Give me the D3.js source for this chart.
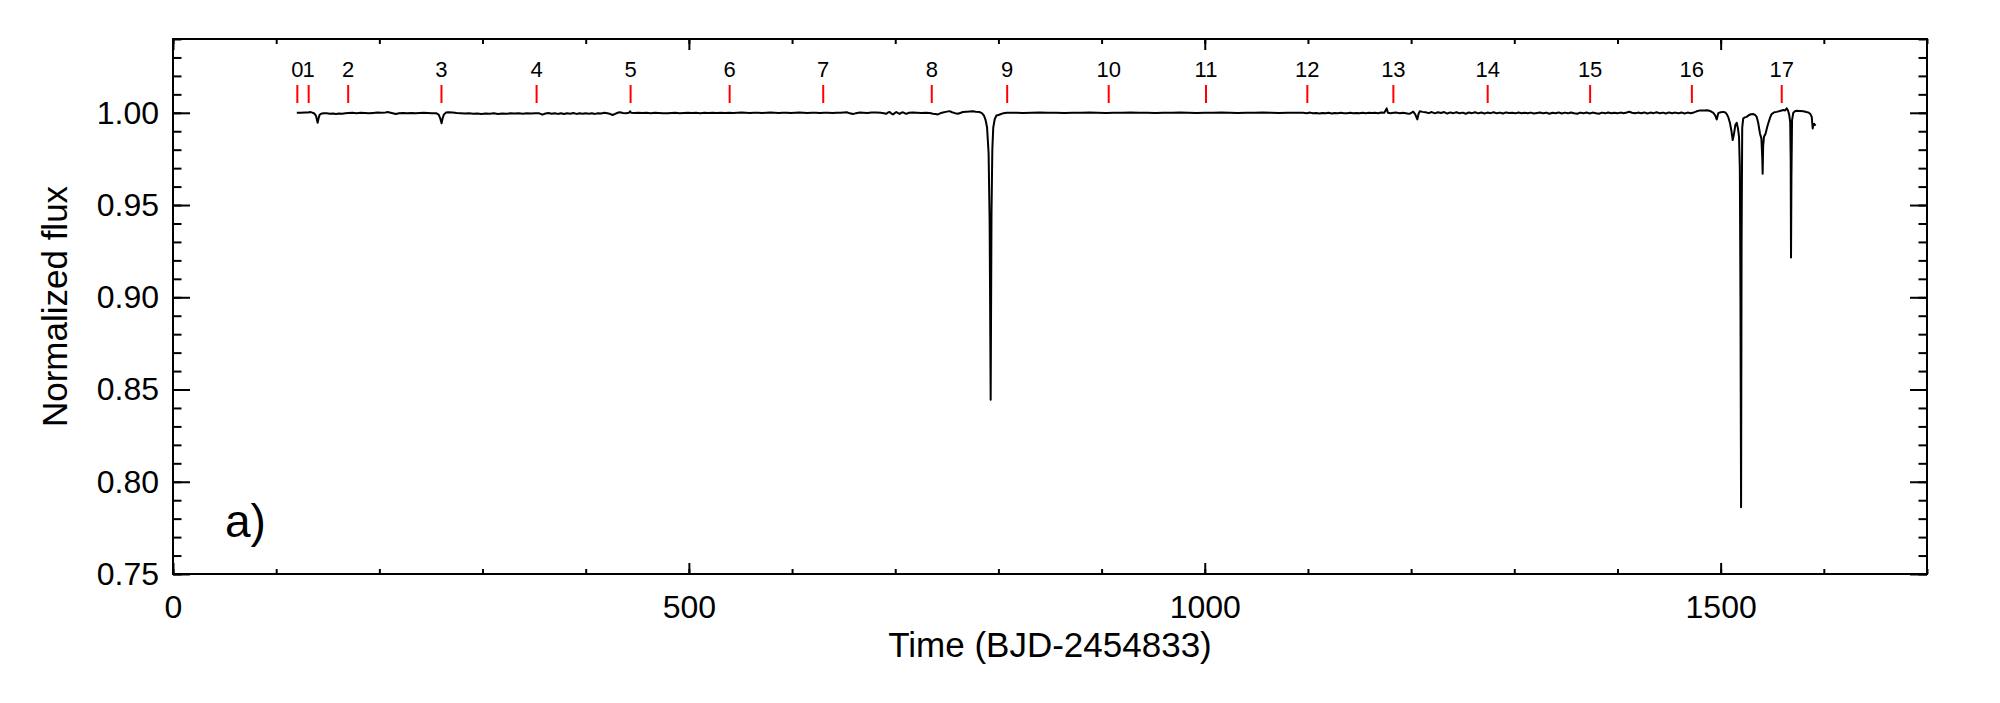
<!DOCTYPE html>
<html>
<head>
<meta charset="utf-8">
<script src="https://cdn.jsdelivr.net/npm/d3@7/dist/d3.min.js"></script>
<style>
  body { margin: 0; background: #fff; }
  text { font-family: "Liberation Sans", Arial, Helvetica, sans-serif; fill: #000; }
</style>
</head>
<body>
<svg id="chart" width="2000" height="703"></svg>
<script>
// light curve (time in BJD-2454833, normalized flux)
var time = [
  120, 124, 128, 131, 133, 135, 137, 138.5, 139.5, 140.2, 141, 142, 143.5, 146, 149, 152, 155, 158, 161, 164, 167,
  170, 174, 178, 182, 186, 190, 194, 198, 202, 206, 208, 211, 214, 216, 219, 223, 227, 231, 235, 239, 243, 247, 251, 255,
  257.5, 259, 260.3, 261.2, 262.5, 264.5, 267, 271, 275, 279, 283, 287, 291, 295, 299, 303, 307, 311, 315, 319, 323, 327,
  331, 335, 339, 343, 347, 351, 355, 358, 361, 364, 367, 370, 373, 376, 379, 382, 385, 388, 391, 394, 397, 400, 403, 406,
  409, 412, 415, 418, 421, 424, 426, 428, 431, 433, 436, 439, 442, 443, 444, 447, 451, 455, 459, 463, 467, 471, 475, 479,
  483, 487, 491, 495, 499, 503, 507, 511, 515, 519, 523, 527, 531, 535, 539, 543, 547, 551, 555, 559, 563, 567, 571, 575,
  579, 583, 587, 591, 595, 599, 603, 607, 611, 615, 619, 623, 627, 631, 635, 639, 643, 647, 650, 653, 656, 659, 662, 665.5,
  669, 673, 677, 681.7, 686, 689, 691.4, 693, 694.6, 696, 697.8, 699.5, 701, 702.5, 704.3, 706, 707.5, 709, 711, 713, 717,
  721, 725, 730, 733.5, 736.6, 739, 741.4, 744, 746.3, 749, 752.7, 755, 758, 760.8, 763, 765.6, 769, 772, 775.3, 778, 781.8,
  784, 786, 787.5, 789, 790.5, 791.5, 792.5, 793.3, 794.1, 795, 796.4, 798, 800, 802, 805, 808,
  816, 824, 832, 840, 848, 856, 864, 872, 880, 888, 896, 904, 912, 920, 928, 936, 944, 952, 960, 968, 976, 984, 992, 1000,
  1008, 1016, 1024, 1032, 1040, 1048, 1056, 1064, 1072, 1080, 1088, 1095,
  1099, 1102, 1105, 1108, 1111, 1114, 1117, 1120, 1123, 1126, 1129, 1132, 1135, 1138, 1141, 1144, 1147, 1150, 1153, 1156,
  1159, 1162, 1165, 1168, 1171, 1174, 1176.3, 1177.5, 1180, 1183, 1186, 1189, 1192, 1195, 1198, 1200, 1202, 1204, 1206,
  1207.2, 1208.5, 1211, 1214, 1217, 1220, 1223, 1226, 1229, 1232, 1235, 1238, 1241, 1244, 1247, 1250, 1253, 1256, 1259,
  1262, 1265, 1268, 1271, 1274, 1277, 1280, 1283, 1286, 1289, 1292, 1295, 1298, 1301, 1304, 1307, 1310, 1313, 1316, 1319,
  1322, 1325, 1328, 1331, 1334, 1337, 1340, 1343, 1346, 1349, 1352, 1355, 1358, 1361, 1364, 1367, 1370, 1373, 1376, 1379,
  1382, 1385, 1388, 1391, 1394, 1397, 1400, 1403, 1406, 1409, 1411.4, 1414, 1417, 1420, 1423, 1426, 1429, 1432, 1435,
  1438, 1441, 1444, 1447, 1450, 1453, 1456, 1459, 1462, 1465, 1468, 1471, 1474,
  1476.8, 1480, 1484, 1487, 1489.7, 1492.9, 1494.8, 1496.2, 1497.7, 1500, 1502.6, 1504.5, 1505.9, 1507.5, 1509.1, 1510.5,
  1511.7, 1512.9, 1514.3, 1515.6, 1516.8, 1517.8, 1518.6, 1519.2, 1519.8, 1520.3, 1520.9, 1521.9, 1523.5, 1525.2, 1527.5,
  1529.5, 1531.7, 1533.5, 1534.9, 1536.5, 1538.1, 1539.5, 1540.3, 1540.7, 1541.2, 1542, 1543.6, 1545, 1546.2, 1548, 1549.4,
  1552, 1554.3, 1557.5, 1560.7, 1562.5, 1564, 1565.3, 1566.5, 1567.4, 1567.9, 1568.2, 1568.6, 1569.2, 1570.4, 1572, 1573.7,
  1577, 1580.2, 1583, 1585, 1587, 1588.3, 1589.2, 1589.8, 1590.6, 1592
];
var flux = [
  1.0000, 1.0000, 1.0001, 1.0002, 1.0004, 1.0001, 0.9996, 0.9985, 0.9962, 0.9946, 0.9968, 0.9988, 0.9995, 0.9998, 0.9997,
  0.9995, 0.9996, 0.9994, 0.9996, 0.9995, 0.9997,
  0.9999, 1.0000, 0.9998, 1.0000, 0.9999, 0.9997, 0.9999, 1.0001, 1.0000, 1.0002, 1.0004, 1.0000, 0.9996, 0.9993, 0.9997,
  0.9999, 0.9998, 0.9999, 0.9997, 0.9999, 1.0000, 0.9999, 0.9998, 0.9998,
  0.9990, 0.9970, 0.9943, 0.9968, 0.9990, 1.0001, 1.0003, 1.0002, 0.9999, 0.9998, 0.9996, 0.9997, 0.9995, 0.9996, 0.9994,
  0.9996, 0.9995, 0.9997, 0.9994, 0.9996, 0.9995, 0.9997,
  0.9996, 0.9998, 0.9995, 0.9997, 0.9996, 0.9998, 0.9997, 0.9990, 0.9996, 0.9999, 0.9995, 0.9998, 0.9994, 0.9997, 0.9993,
  0.9997, 0.9995, 0.9999, 0.9994, 0.9997, 0.9995, 0.9998, 0.9995, 0.9997,
  0.9994, 0.9998, 0.9996, 1.0000, 0.9997, 0.9993, 0.9988, 0.9993, 1.0000, 1.0003, 0.9999, 0.9998, 1.0000, 1.0008, 1.0000,
  0.9999, 1.0000, 0.9999, 1.0000, 0.9998, 1.0000, 0.9999, 0.9998, 0.9997,
  0.9999, 1.0000, 0.9998, 0.9999, 1.0000, 0.9999, 1.0000, 0.9998, 1.0000, 0.9999, 1.0000, 0.9999, 1.0000, 0.9999, 1.0000,
  0.9999, 1.0000, 1.0001, 1.0000, 0.9999, 1.0000, 1.0000, 0.9999, 1.0000,
  1.0001, 1.0000, 0.9999, 1.0000, 1.0000, 0.9999, 1.0000, 1.0001, 1.0000, 0.9999, 1.0000, 1.0000, 0.9999, 1.0000, 1.0000,
  0.9999, 1.0000, 1.0000, 1.0002, 1.0003, 0.9997, 0.9993, 0.9998, 1.0001,
  1.0000, 0.9999, 1.0001, 1.0002, 1.0000, 0.9998, 0.9995, 1.0002, 1.0004, 0.9997, 0.9991, 0.9998, 1.0004, 0.9999, 0.9994,
  1.0001, 1.0003, 0.9998, 0.9995, 1.0000, 1.0001,
  1.0000, 0.9999, 1.0000, 0.9999, 0.9995, 0.9994, 0.9991, 0.9998, 1.0002, 1.0005, 1.0009, 1.0003, 0.9998, 0.9995, 0.9999,
  1.0004, 1.0006, 1.0007, 1.0008, 1.0006, 1.0004,
  0.9998, 0.9985, 0.9962, 0.9920, 0.9780, 0.9400, 0.8444, 0.9450, 0.9800, 0.9920, 0.9965, 0.9985, 0.9988, 0.9992, 0.9998,
  1.0000,
  1.0000, 0.9999, 1.0000, 1.0001, 1.0000, 1.0000, 0.9999, 1.0000, 1.0000, 1.0001, 1.0000, 0.9999, 1.0000, 1.0000, 1.0001,
  1.0000, 1.0000, 0.9999, 1.0000, 1.0000, 1.0001, 1.0000, 0.9999, 1.0000,
  1.0000, 1.0001, 1.0000, 0.9999, 1.0000, 1.0000, 1.0001, 1.0000, 0.9999, 1.0000, 1.0000, 1.0000,
  0.9998, 1.0001, 0.9997, 0.9999, 0.9996, 0.9999, 0.9997, 1.0000, 0.9996, 0.9999, 0.9997, 1.0000, 0.9998, 0.9997, 1.0000,
  0.9998, 0.9999, 0.9997, 1.0000, 0.9998,
  1.0000, 0.9999, 1.0000, 0.9998, 1.0001, 1.0000, 1.0024, 1.0000, 0.9998, 1.0000, 1.0001, 0.9997, 1.0000, 0.9998, 0.9994,
  0.9999, 1.0006, 0.9992, 0.9964,
  0.9995, 1.0008, 1.0005, 1.0003, 0.9998, 1.0004, 0.9997, 1.0003, 0.9999, 1.0004, 0.9996, 1.0002, 0.9998, 1.0003, 0.9997,
  1.0001, 0.9995, 1.0002, 0.9998,
  1.0003, 0.9997, 1.0002, 0.9996, 1.0001, 0.9998, 1.0003, 0.9997, 1.0001, 0.9996, 1.0002, 0.9999, 1.0000, 0.9997, 1.0002,
  0.9998, 1.0000, 0.9997, 1.0001, 0.9996,
  0.9999, 1.0002, 0.9997, 1.0001, 0.9995, 1.0000, 0.9998, 1.0002, 0.9996, 1.0001, 0.9997, 1.0002, 0.9998, 0.9995, 1.0001,
  0.9997, 1.0002, 0.9996, 1.0001, 0.9998,
  0.9995, 1.0001, 0.9997, 1.0002, 0.9998, 1.0000, 0.9997, 1.0001, 0.9998, 1.0002, 1.0006, 1.0000, 0.9997, 1.0001, 0.9998,
  1.0002, 0.9996, 1.0001, 0.9998,
  1.0003, 0.9997, 1.0001, 0.9996, 1.0002, 0.9998, 1.0001, 0.9997, 1.0002, 0.9996, 1.0001, 0.9998, 1.0002,
  1.0008, 1.0013, 1.0012, 1.0014, 1.0010, 1.0000, 0.9985, 0.9964, 0.9998, 1.0003, 1.0005, 1.0002, 0.9993, 0.9975, 0.9943,
  0.9900,
  0.9852, 0.9885, 0.9935, 0.9946, 0.9915, 0.9870, 0.9700, 0.9000, 0.7862, 0.9300, 0.9920, 0.9970, 0.9975, 0.9978, 0.9988,
  0.9992, 0.9993, 0.9988, 0.9978, 0.9943, 0.9888, 0.9860, 0.9760, 0.9670, 0.9820, 0.9870, 0.9888, 0.9920, 0.9943, 0.9975,
  0.9993,
  1.0003, 1.0005, 1.0010, 1.0015, 1.0013, 1.0024, 1.0012, 0.9988, 0.9950, 0.9740, 0.9215, 0.9650, 0.9960, 1.0000, 1.0008,
  1.0011,
  1.0010, 1.0008, 1.0004, 1.0002, 0.9993, 0.9978, 0.9915, 0.9935, 0.9940, 0.9930
];

// Kepler quarter starts (red markers along the top)
var quarterNames = ["0", "1", "2", "3", "4", "5", "6", "7", "8", "9", "10", "11", "12", "13", "14", "15", "16", "17"];
var quarterStart = [120.5, 131.5, 169.8, 260.2, 352.4, 443.5, 539.5, 630.2, 735.4, 808.5, 906.9, 1001.2, 1099.4,
                    1182.8, 1274.2, 1373.5, 1472.1, 1559.2];

var xTicks = [0, 500, 1000, 1500];
var yTicks = [0.75, 0.80, 0.85, 0.90, 0.95, 1.00];
var yTickLabels = ["0.75", "0.80", "0.85", "0.90", "0.95", "1.00"];

var W = 2000, H = 703;
var m = { top: 39, right: 73, bottom: 129, left: 173 };

var svg = d3.select('#chart');
svg.append('rect').attr('width', W).attr('height', H).attr('fill', '#fff');

var x = d3.scaleLinear().domain([0, 1700]).range([m.left, W - m.right]);
var y = d3.scaleLinear().domain([0.75, 1.04]).range([H - m.bottom, m.top]);

var pts = time.map(function(t, i) { return [t, flux[i]]; });

// curve
svg.append('path')
  .datum(pts)
  .attr('fill', 'none')
  .attr('stroke', '#000')
  .attr('stroke-width', 2)
  .attr('stroke-linejoin', 'round')
  .attr('d', d3.line().x(function(d) { return x(d[0]); }).y(function(d) { return y(d[1]); }));

// axes: major + minor, ticks pointing inwards
var xMinor = d3.range(0, 1701, 100), yMinor = d3.range(75, 105, 1).map(function(v) { return v / 100; });
function styleAxis(g, fs) {
  g.select('.domain').remove();
  g.selectAll('.tick line').attr('stroke', '#000').attr('stroke-width', 2);
  g.selectAll('.tick text').attr('font-size', fs).attr('font-family', '"Liberation Sans", Arial, sans-serif').attr('fill', '#000');
}
function addAxis(axis, tx, ty, fs) {
  var g = svg.append('g').attr('transform', 'translate(' + tx + ',' + ty + ')').call(axis);
  styleAxis(g, fs);
  return g;
}
var yb = H - m.bottom, xr = W - m.right;
addAxis(d3.axisBottom(x).tickValues(xMinor).tickSize(-5).tickFormat(''), 0, yb);
addAxis(d3.axisBottom(x).tickValues(xTicks).tickSize(-11).tickPadding(21).tickFormat(d3.format('d')), 0, yb, 32);
addAxis(d3.axisTop(x).tickValues(xMinor).tickSize(-5).tickFormat(''), 0, m.top);
addAxis(d3.axisTop(x).tickValues(xTicks).tickSize(-11).tickFormat(''), 0, m.top);
addAxis(d3.axisLeft(y).tickValues(yMinor).tickSize(-8.5).tickFormat(''), m.left, 0);
addAxis(d3.axisLeft(y).tickValues(yTicks).tickSize(-17).tickPadding(14)
  .tickFormat(function(d, i) { return yTickLabels[i]; }), m.left, 0, 32);
addAxis(d3.axisRight(y).tickValues(yMinor).tickSize(-8.5).tickFormat(''), xr, 0);
addAxis(d3.axisRight(y).tickValues(yTicks).tickSize(-17).tickFormat(''), xr, 0);

// frame
svg.append('rect')
  .attr('x', m.left).attr('y', m.top)
  .attr('width', xr - m.left).attr('height', yb - m.top)
  .attr('fill', 'none').attr('stroke', '#000').attr('stroke-width', 2);

// quarter markers
var q = svg.append('g');
q.selectAll('line').data(quarterStart).enter().append('line')
  .attr('x1', function(d) { return x(d); }).attr('x2', function(d) { return x(d); })
  .attr('y1', 85).attr('y2', 103)
  .attr('stroke', '#ff0000').attr('stroke-width', 2);
q.selectAll('text').data(quarterStart).enter().append('text')
  .attr('x', function(d) { return x(d); }).attr('y', 77)
  .attr('text-anchor', 'middle').attr('font-size', 22)
  .text(function(d, i) { return quarterNames[i]; });

// titles
svg.append('text')
  .attr('x', (m.left + xr) / 2).attr('y', 657)
  .attr('text-anchor', 'middle').attr('font-size', 35)
  .text('Time (BJD-2454833)');
svg.append('text')
  .attr('transform', 'translate(67,' + (m.top + yb) / 2 + ') rotate(-90)')
  .attr('text-anchor', 'middle').attr('font-size', 35)
  .text('Normalized flux');
svg.append('text')
  .attr('x', 225).attr('y', 537).attr('font-size', 46)
  .text('a)');
</script>
</body>
</html>
